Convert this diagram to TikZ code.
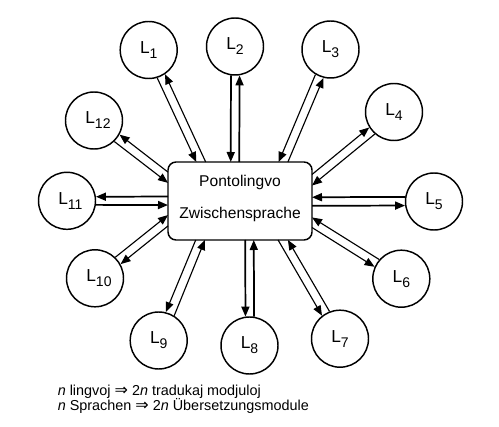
\documentclass[tikz,border=0pt]{standalone}
\usepackage{fontspec}
\setmainfont{Liberation Sans}
\newfontfamily\symfont{DejaVu Sans}
\usetikzlibrary{arrows.meta}
\newcommand\Lab[1]{\makebox[13pt][l]{\fontsize{13}{15}\selectfont L\raisebox{-3.7pt}{\fontsize{10.5}{12}\selectfont #1}}}
\begin{document}
\begin{tikzpicture}[x=0.75pt,y=-0.75pt,
  lang/.style={circle,draw,line width=1.1pt,minimum size=42.75pt,inner sep=0pt},
  hub/.style={draw,line width=1.1pt,rounded corners=6pt,minimum width=108pt,minimum height=58.5pt,inner sep=0pt},
  con/.style={line width=0.85pt,-{Triangle[length=7.5pt,width=6pt]}},
  axis/.style={con,line width=1.3pt},
  hubtext/.style={anchor=base,inner sep=0pt,font=\fontsize{11.7}{14}\selectfont},
  foot/.style={anchor=base west,inner sep=0pt,font=\fontsize{10.8}{13}\selectfont}]
\useasboundingbox (0,0) rectangle (499,427);
% hub
\node[hub] (box) at (240,201) {};
\node[hubtext] (t1) at (240,186.7) {Pontolingvo};
\node[hubtext] (t2) at (240,218.3) {Zwischensprache};
% languages
\node[lang] (L1)  at (148.7,50)    {\Lab{1}};
\node[lang] (L2)  at (235,46.5)    {\Lab{2}};
\node[lang] (L3)  at (330.5,49.5)  {\Lab{3}};
\node[lang] (L4)  at (394,112)     {\Lab{4}};
\node[lang] (L5)  at (434,201.5)   {\Lab{5}};
\node[lang] (L6)  at (401.3,278.7) {\Lab{6}};
\node[lang] (L7)  at (340,338.7)   {\Lab{7}};
\node[lang] (L8)  at (249.5,345.5) {\Lab{8}};
\node[lang] (L9)  at (158.7,340.5) {\Lab{9}};
\node[lang] (L10) at (95,278.3)    {\Lab{10}};
\node[lang] (L11) at (67,200.8)    {\Lab{11}};
\node[lang] (L12) at (94,120.5)    {\Lab{12}};
% connector ends on the hub border
\coordinate (o1) at (205.69,162);  \coordinate (i1) at (196.31,162);
\coordinate (o2) at (239.25,162);  \coordinate (i2) at (230.75,162);
\coordinate (o3) at (287.91,162);  \coordinate (i3) at (278.69,162);
\coordinate (o4) at (312,174.48);  \coordinate (i4) at (312,185.52);
\coordinate (o5) at (312,205.75);  \coordinate (i5) at (312,197.25);
\coordinate (o6) at (312,227.52);  \coordinate (i6) at (312,217.47);
\coordinate (o7) at (278.09,240);  \coordinate (i7) at (287.91,240);
\coordinate (o8) at (245.25,240);  \coordinate (i8) at (253.75,240);
\coordinate (o9) at (195.70,240);  \coordinate (i9) at (204.91,240);
\coordinate (o10) at (168,225.92); \coordinate (i10) at (168,215.08);
\coordinate (o11) at (168,196.55); \coordinate (i11) at (168,205.05);
\coordinate (o12) at (168,172.13); \coordinate (i12) at (168,182.86);
% connectors: outward (hub -> language) and inward (language -> hub)
\draw[con]  (o1) -- (L1.-56.39);   \draw[con]  (L1.-73.55) -- (i1);
\draw[axis] (o2) -- (L2.-81.42);   \draw[axis] (L2.-98.58) -- (i2);
\draw[con]  (o3) -- (L3.-104.18);  \draw[con]  (L3.-121.34) -- (i3);
\draw[con]  (o4) -- (L4.-148.91);  \draw[con]  (L4.-131.75) -- (i4);
\draw[axis] (o5) -- (L5.188.58);   \draw[axis] (L5.171.42) -- (i5);
\draw[con]  (o6) -- (L6.156.40);   \draw[con]  (L6.139.24) -- (i6);
\draw[con]  (o7) -- (L7.128.58);   \draw[con]  (L7.111.42) -- (i7);
\draw[axis] (o8) -- (L8.98.58);    \draw[axis] (L8.81.42) -- (i8);
\draw[con]  (o9) -- (L9.76.09);    \draw[con]  (L9.58.93) -- (i9);
\draw[con]  (o10) -- (L10.29.79);  \draw[con]  (L10.46.95) -- (i10);
\draw[axis] (o11) -- (L11.8.58);   \draw[axis] (L11.-8.58) -- (i11);
\draw[con]  (o12) -- (L12.-29.03); \draw[con]  (L12.-46.19) -- (i12);
% footnote
\node[foot] (f1) at (57.5,395) {\textit{n} lingvoj {\symfont\fontsize{12}{13}\selectfont ⇒} 2\textit{n} tradukaj modjuloj};
\node[foot] (f2) at (57.5,410) {\textit{n} Sprachen {\symfont\fontsize{12}{13}\selectfont ⇒} 2\textit{n} Übersetzungsmodule};
\end{tikzpicture}
\end{document}
